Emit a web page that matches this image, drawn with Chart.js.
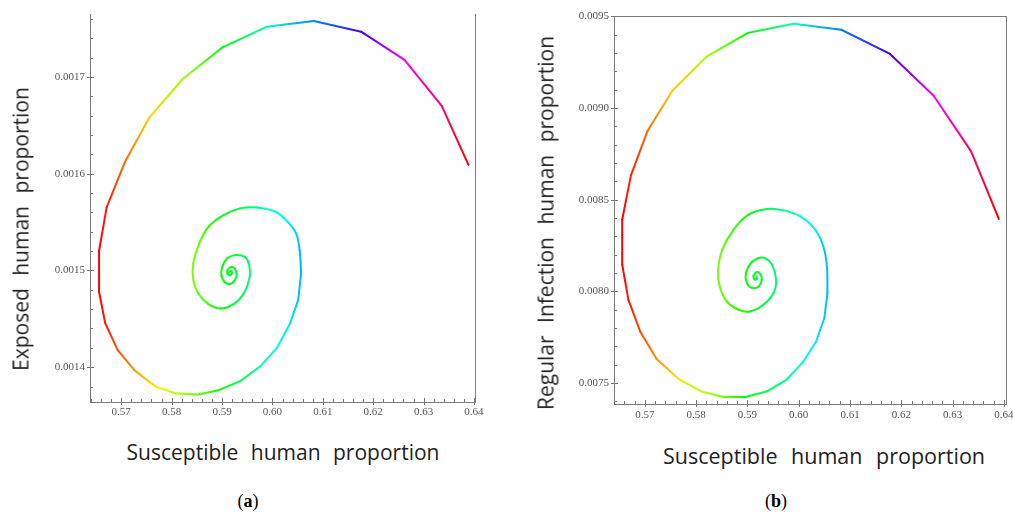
<!DOCTYPE html>
<html>
<head>
<meta charset="utf-8">
<script src="https://cdn.jsdelivr.net/npm/chart.js@4.4.1/dist/chart.umd.min.js"></script>
<style>
  html, body { margin: 0; padding: 0; background: #fff; overflow: hidden; width: 1013px; height: 514px; }
  canvas { position: absolute; top: 0; }
  .ttl { position: absolute; font-family: "Open Sans", sans-serif; font-size: 21px; color: #222; white-space: nowrap; word-spacing: 7px; line-height: 1; }
  .cap { position: absolute; font-family: "Liberation Serif", serif; font-size: 18px; color: #000; line-height: 1; }
</style>
</head>
<body>
<canvas id="chartA" width="505" height="420" style="left:0"></canvas>
<canvas id="chartB" width="520" height="420" style="left:510px"></canvas>

<div class="ttl" id="ytA" style="left:21px;top:229px;transform:translate(-50%,-50%) rotate(-90deg)">Exposed  human  proportion</div>
<div class="ttl" id="xtA" style="left:283px;top:452px;transform:translate(-50%,-50%)">Susceptible  human  proportion</div>
<div class="ttl" id="ytB" style="left:546px;top:223px;transform:translate(-50%,-50%) rotate(-90deg)">Regular  Infection  human  proportion</div>
<div class="ttl" id="xtB" style="left:824px;top:456px;font-size:21.5px;word-spacing:8px;transform:translate(-50%,-50%)">Susceptible  human  proportion</div>
<div class="cap" style="left:248px;top:501px;transform:translate(-50%,-50%)">(<b>a</b>)</div>
<div class="cap" style="left:776px;top:501px;transform:translate(-50%,-50%)">(<b>b</b>)</div>

<script>
// panel (a): susceptible vs exposed
var susceptibleA = [0.6389, 0.6336, 0.6262, 0.6176, 0.6082, 0.5989, 0.5901, 0.5822, 0.5756, 0.5707,
  0.5671, 0.5656, 0.5656, 0.5668, 0.5693, 0.5726, 0.5769, 0.5809, 0.5853, 0.5893,
  0.5936, 0.5976, 0.6009, 0.6035, 0.6051, 0.6057, 0.6054, 0.6047, 0.6030, 0.6006,
  0.5969, 0.5936, 0.5903, 0.5873, 0.5855, 0.5843, 0.5843, 0.5853, 0.5873, 0.5897,
  0.5923, 0.5943, 0.5955, 0.5953, 0.5945, 0.5926, 0.5910, 0.5900, 0.5899, 0.5905,
  0.5915, 0.5925, 0.5929, 0.5925, 0.5918, 0.5911, 0.5911, 0.5916, 0.5920, 0.5917, 0.5914];
var exposedA = [0.001609, 0.001670, 0.0017175, 0.0017467, 0.0017578, 0.0017519, 0.0017306, 0.0016978, 0.0016582, 0.0016117,
  0.0015651, 0.0015203, 0.0014779, 0.0014458, 0.0014176, 0.0013969, 0.0013796, 0.0013728, 0.0013718, 0.0013762,
  0.0013855, 0.0014010, 0.0014200, 0.0014452, 0.0014693, 0.0014970, 0.0015210, 0.0015383, 0.0015503, 0.0015606,
  0.0015651, 0.0015641, 0.0015572, 0.0015451, 0.0015279, 0.0015072, 0.0014900, 0.0014762, 0.0014652, 0.0014607,
  0.0014652, 0.0014762, 0.0014934, 0.0015072, 0.0015140, 0.0015158, 0.0015124, 0.0015030, 0.0014945, 0.0014880,
  0.0014858, 0.0014895, 0.0014965, 0.0015020, 0.0015035, 0.0015005, 0.0014965, 0.0014950, 0.0014975, 0.0014995, 0.0014980];

// panel (b): susceptible vs regular infection
var susceptibleB = [0.6390, 0.6336, 0.6263, 0.6178, 0.6083, 0.5990, 0.5901, 0.5821, 0.5754, 0.5705,
  0.5673, 0.5656, 0.5656, 0.5668, 0.5691, 0.5723, 0.5766, 0.5810, 0.5853, 0.5896,
  0.5938, 0.5976, 0.6007, 0.6034, 0.6050, 0.6056, 0.6055, 0.6048, 0.6032, 0.6003,
  0.5970, 0.5938, 0.5902, 0.5873, 0.5851, 0.5843, 0.5846, 0.5860, 0.5883, 0.5905,
  0.5931, 0.5951, 0.5956, 0.5948, 0.5935, 0.5922, 0.5907, 0.5897, 0.5899, 0.5910,
  0.5922, 0.5928, 0.5925, 0.5918, 0.5912, 0.5914, 0.5919, 0.5917];
var infectionB = [0.008395, 0.008764, 0.009067, 0.009295, 0.009427, 0.009460, 0.009410, 0.009282, 0.009096, 0.008873,
  0.008633, 0.008391, 0.008146, 0.007955, 0.007782, 0.007631, 0.007522, 0.007455, 0.007424, 0.007424,
  0.007455, 0.007518, 0.007610, 0.007727, 0.007855, 0.007991, 0.008136, 0.008245, 0.008337, 0.008409,
  0.008442, 0.008449, 0.008418, 0.008337, 0.008227, 0.008118, 0.008027, 0.007945, 0.007900, 0.007891,
  0.007927, 0.007991, 0.008064, 0.008146, 0.008180, 0.008182, 0.008155, 0.008100, 0.008045, 0.008018,
  0.008027, 0.008064, 0.008095, 0.008105, 0.008085, 0.008065, 0.008070, 0.008082];

// the outer path is a coarse polyline, the inner spiral is sampled finely (smooth)
var smoothFrom = 25;

// tick labels
var xTickLabels = ['0.57', '0.58', '0.59', '0.60', '0.61', '0.62', '0.63', '0.64'];
var yTickLabelsA = ['0.0014', '0.0015', '0.0016', '0.0017'];
var yTickLabelsB = ['0.0075', '0.0080', '0.0085', '0.0090', '0.0095'];

var axisGray = '#7a7a7a';

// colour = hue of the susceptible value, red -> ... -> red across the range
function hueColor(v, lo, hi) {
  var h = (v - lo) / (hi - lo) * 360;
  return 'hsl(' + h.toFixed(1) + ',100%,50%)';
}

function makeSegment(xs, lo, hi) {
  return function(ctx) {
    var g = ctx.chart.ctx.createLinearGradient(ctx.p0.x, ctx.p0.y, ctx.p1.x, ctx.p1.y);
    g.addColorStop(0, hueColor(xs[ctx.p0DataIndex], lo, hi));
    g.addColorStop(1, hueColor(xs[ctx.p1DataIndex], lo, hi));
    return g;
  };
}

// inward minor ticks, majors crossing the axis
var innerTicks = {
  id: 'innerTicks',
  afterDraw: function(chart) {
    var c = chart.ctx, a = chart.chartArea;
    var xs = chart.scales.x, ys = chart.scales.y;
    c.save();
    c.strokeStyle = axisGray;
    c.lineWidth = 1;
    c.beginPath();
    xs.ticks.forEach(function(t) {
      var px = Math.round(xs.getPixelForValue(t.value)) + 0.5;
      c.moveTo(px, a.bottom + 3); c.lineTo(px, a.bottom - 4);
      for (var k = 1; k < 5; k++) {
        var v = t.value - 0.01 + k * 0.002;
        if (v < xs.min) continue;
        var mx = Math.round(xs.getPixelForValue(v)) + 0.5;
        c.moveTo(mx, a.bottom); c.lineTo(mx, a.bottom - 3);
      }
    });
    var ystep = ys.ticks[1].value - ys.ticks[0].value;
    ys.ticks.forEach(function(t, i) {
      var py = Math.round(ys.getPixelForValue(t.value)) + 0.5;
      c.moveTo(a.left - 3, py); c.lineTo(a.left + 4, py);
      for (var k = -4; k < 5; k++) {
        if (k === 0 || (k < 0 && i > 0)) continue;
        var v = t.value + k * ystep / 5;
        if (v > ys.max || v < ys.min) continue;
        var my = Math.round(ys.getPixelForValue(v)) + 0.5;
        c.moveTo(a.left, my); c.lineTo(a.left + 3, my);
      }
    });
    c.stroke();
    c.restore();
  }
};

function buildChart(id, xs, ys, yLabels, opt) {
  var lo = Math.min.apply(null, xs), hi = Math.max.apply(null, xs);
  var points = xs.map(function(x, i) { return { x: x, y: ys[i] }; });
  var outer = points.slice(0, smoothFrom + 1);
  var inner = points.slice(smoothFrom);
  var tickFont = { family: '"Liberation Serif", "Times New Roman", serif', size: 11 };
  var scales = {
    x: {
      type: 'linear', min: opt.xMin, max: opt.xMax,
      afterBuildTicks: function(s) { s.ticks = xTickLabels.map(function(l) { return { value: parseFloat(l) }; }); },
      afterFit: function(s) { s.height = opt.xHeight; },
      ticks: { autoSkip: false, maxRotation: 0, padding: opt.xPad, color: '#555', font: tickFont,
        callback: function(v, i) { return xTickLabels[i]; } },
      grid: { display: false, drawTicks: false },
      border: { display: true, color: axisGray, width: 1 }
    },
    y: {
      type: 'linear', min: opt.yMin, max: opt.yMax,
      afterBuildTicks: function(s) { s.ticks = yLabels.map(function(l) { return { value: parseFloat(l) }; }); },
      afterFit: function(s) { s.width = opt.yWidth; },
      ticks: { autoSkip: false, padding: 5, color: '#555', font: tickFont,
        callback: function(v, i) { return yLabels[i]; } },
      grid: { display: false, drawTicks: false },
      border: { display: true, color: axisGray, width: 1 }
    },
    yRight: {
      type: 'linear', position: 'right', min: opt.yMin, max: opt.yMax,
      afterFit: function(s) { s.width = 0; },
      ticks: { display: false }, grid: { display: false, drawTicks: false },
      border: { display: true, color: axisGray, width: 1 }
    }
  };
  if (opt.topBorder) {
    scales.xTop = {
      type: 'linear', position: 'top', min: opt.xMin, max: opt.xMax,
      afterFit: function(s) { s.height = 0; },
      ticks: { display: false }, grid: { display: false, drawTicks: false },
      border: { display: true, color: axisGray, width: 1 }
    };
  }
  var common = {
    borderWidth: 2,
    pointRadius: 0,
    borderCapStyle: 'round',
    borderJoinStyle: 'round'
  };
  return new Chart(document.getElementById(id), {
    type: 'line',
    data: {
      datasets: [
        Object.assign({ data: outer, tension: 0,
          segment: { borderColor: makeSegment(xs.slice(0, smoothFrom + 1), lo, hi) } }, common),
        Object.assign({ data: inner, tension: 0.35,
          segment: { borderColor: makeSegment(xs.slice(smoothFrom), lo, hi) } }, common)
      ]
    },
    options: {
      responsive: false,
      animation: false,
      layout: { padding: opt.padding },
      plugins: { legend: { display: false }, tooltip: { enabled: false } },
      scales: scales
    },
    plugins: [innerTicks]
  });
}

buildChart('chartA', susceptibleA, exposedA, yTickLabelsA, {
  xMin: 0.5638, xMax: 0.6402, yMin: 0.001364, yMax: 0.001765,
  xHeight: 18, xPad: 4, yWidth: 90,
  padding: { left: 0, right: 30, top: 14, bottom: 0 }
});

buildChart('chartB', susceptibleB, infectionB, yTickLabelsB, {
  xMin: 0.5640, xMax: 0.6404, yMin: 0.007386, yMax: 0.009502,
  xHeight: 16, xPad: 5, yWidth: 104,
  padding: { left: 0, right: 24, top: 16, bottom: 0 },
  topBorder: true
});
</script>
</body>
</html>
